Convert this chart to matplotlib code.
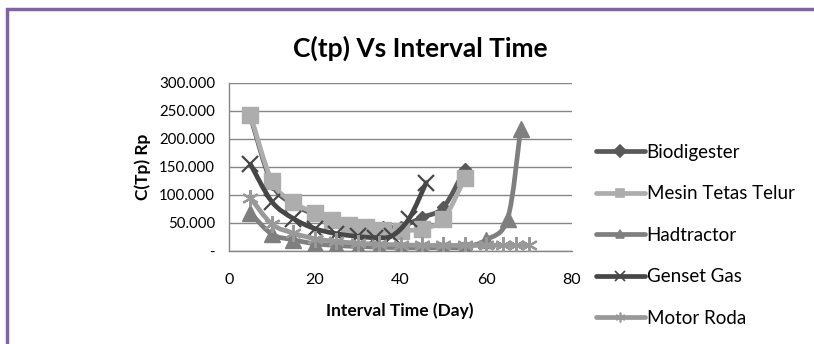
import matplotlib
matplotlib.use("Agg")
import matplotlib.pyplot as plt
import numpy as np
from matplotlib.path import Path
from matplotlib.patches import PathPatch, Rectangle
from matplotlib.lines import Line2D

# ---- data ----
bio_x = [5, 10, 15, 20, 24, 28, 32, 36, 40, 45, 50, 55]
bio_y = [240, 120, 84, 65, 55, 48, 45, 43, 43, 60, 78, 146]

mesin_x = [5, 10, 15, 20, 24, 28, 32, 36, 40, 45, 50, 55]
mesin_y = [243, 125, 87, 68, 55, 47, 42, 38, 36, 40, 57, 130]

had_x = [5, 10, 15, 20, 25, 30, 35, 40, 45, 50, 55, 60, 65, 68]
had_y = [68, 30, 20, 13, 10, 8, 7, 6, 6, 6, 7, 20, 58, 217]

gen_x = [5, 10, 15, 20, 25, 30, 34, 38, 42, 46]
gen_y = [155, 88, 58, 40, 31, 26, 24, 27, 58, 122]

motor_x = [5, 10, 15, 20, 25, 30, 35, 40, 45, 50, 55, 60, 64, 67, 70]
motor_y = [95, 48, 32, 22, 17, 14, 12, 11, 10, 10, 10, 10, 10, 10, 10]

series_names = ["Biodigester", "Mesin Tetas Telur", "Hadtractor", "Genset Gas", "Motor Roda"]
x_ticks = [0, 20, 40, 60, 80]
y_ticks = [0, 50, 100, 150, 200, 250, 300]
y_tick_labels = ["-", "50.000", "100.000", "150.000", "200.000", "250.000", "300.000"]

FONT = "Lato"
plt.rcParams["font.family"] = [FONT, "DejaVu Sans"]

W, H = 814, 344
fig = plt.figure(figsize=(W / 100, H / 100), dpi=100)

# purple frame (top and left visible)
fig.patches.append(Rectangle((7 / W, -0.1), 1.2, 1 - 9 / H + 0.1, transform=fig.transFigure,
                             fill=False, edgecolor="#8064a2", linewidth=2.5, zorder=0))

L, R, T, B = 229, 572, 83, 251
ax = fig.add_axes([L / W, 1 - B / H, (R - L) / W, (B - T) / H])
ax.set_xlim(0, 80)
ax.set_ylim(0, 300)


def smooth_path(xs, ys):
    pts = np.column_stack([xs, ys]).astype(float)
    n = len(pts)
    verts = [pts[0]]
    codes = [Path.MOVETO]
    for i in range(n - 1):
        p0 = pts[i - 1] if i > 0 else pts[i]
        p1 = pts[i]
        p2 = pts[i + 1]
        p3 = pts[i + 2] if i + 2 < n else pts[i + 1]
        c1 = p1 + (p2 - p0) / 6.0
        c2 = p2 - (p3 - p1) / 6.0
        verts += [c1, c2, p2]
        codes += [Path.CURVE4] * 3
    return Path(verts, codes)


styles = [
    (bio_x, bio_y, "#595959", "D", 6),
    (mesin_x, mesin_y, "#adadad", "s", 11),
    (had_x, had_y, "#7f7f7f", "^", 11),
    (gen_x, gen_y, "#474747", "x", 12),
    (motor_x, motor_y, "#999999", (6, 2, 0), 12),
]

handles = []
for i, (xs, ys, col, mk, ms) in enumerate(styles):
    z = 3 + i
    patch = PathPatch(smooth_path(xs, ys), facecolor="none", edgecolor=col, lw=3.4,
                      capstyle="round", joinstyle="round", zorder=z)
    ax.add_patch(patch)
    if mk in ("x", (6, 2, 0)):
        ax.plot(xs, ys, linestyle="none", marker=mk, markersize=ms, color=col,
                markeredgewidth=1.6, zorder=z + 0.5)
    else:
        ax.plot(xs, ys, linestyle="none", marker=mk, markersize=ms, color=col,
                markeredgecolor=col, zorder=z + 0.5)
    handles.append(Line2D([0], [0], color=col, lw=3.4, marker=mk,
                          markersize=(6 if mk not in ("x", (6, 2, 0)) else 7),
                          markeredgewidth=1.2, solid_capstyle="round"))

ax.set_xticks(x_ticks)
ax.set_yticks(y_ticks)
ax.set_yticklabels(y_tick_labels)
ax.tick_params(axis="both", length=0, color="#868686")
ax.tick_params(axis="x", pad=16, labelsize=11.5)
ax.tick_params(axis="y", pad=10, labelsize=10.8)
ax.yaxis.grid(True, color="#868686", lw=1)
ax.set_axisbelow(True)
for s in ["top", "right"]:
    ax.spines[s].set_visible(False)
for s in ["left", "bottom"]:
    ax.spines[s].set_color("#868686")
    ax.spines[s].set_linewidth(1)

fig.text(420 / W, 1 - 48 / H, "C(tp) Vs Interval Time", ha="center", va="center",
         fontsize=19, fontweight="bold")
fig.text(400 / W, 1 - 311 / H, "Interval Time (Day)", ha="center", va="center",
         fontsize=12.5, fontweight="bold")
fig.text(143 / W, 1 - 167 / H, "C(Tp) Rp", ha="center", va="center", rotation=90,
         fontsize=12.5, fontweight="bold")

leg = fig.legend(handles, series_names, loc="upper left",
                 bbox_to_anchor=(596 / W, 1 - 144 / H), frameon=False,
                 fontsize=13.5, handlelength=2.6, handletextpad=0.1,
                 labelspacing=1.30, borderaxespad=0, borderpad=0)

fig.savefig("out.png", dpi=100)
